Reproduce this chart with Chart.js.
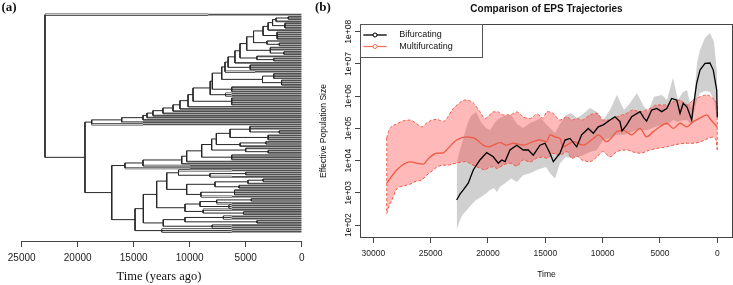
<!DOCTYPE html>
<html><head><meta charset="utf-8">
<script src="https://cdn.jsdelivr.net/npm/chart.js@4.4.1/dist/chart.umd.min.js"></script>
<style>
html,body{margin:0;padding:0;background:#fff;}
#wrap{position:relative;width:733px;height:285px;overflow:hidden;background:#fff;}
#ca{position:absolute;left:0;top:0;}
#cb{position:absolute;left:310px;top:0;}
</style></head><body>
<div id="wrap">
<canvas id="ca" width="310" height="285"></canvas>
<canvas id="cb" width="423" height="285"></canvas>
</div>
<script>
// ---------------- Panel (a): tree data (node heights in years ago) ----------------
const treeTicks = [0, 5000, 10000, 15000, 20000, 25000];
const rootHeight = 22920;
const tipA = 8350;                 // tip value = time where terminal branch turns grey (0 = default)
const nodeBHeight = 19350;
const nodeDHeight = 16960;
const defaultGreyStart = 6250;
const upperBase = [1200, 0, 0];
const upperSpine = [
  [2300, 0], [2600, [1500, 0, 0, 0]], [3000, 0], [3450, [2200, 0, 0, 0, 0]],
  [4300, [3100, 0, [2000, 0, 0]]], [4910, [2800, 0, 0, [1600, 0, 0]]],
  [5510, [4000, 0, [2500, 0, 0]]], [5960, 0], [6570, [4600, 0, 0, 0]], [6850, 4170],
  [7140, [3500, [2500, 0, 0, 0], [1800, 0, 0, 0]]], [7980, [6250, 0, 0, 0]],
  [8170, [6800, 0, 0]], [9700, [6250, 0, 0, 0, 0]],
  [10150, 20000], [10870, 20000], [11490, 20000], [12390, 20000], [13280, 20000],
  [13810, 20000], [14170, 20000], [16070, 14170], [18750, 14170]
];
const lowerEBase = [7620, [6400, [4620, 0, 0, [2000, 0, 0]], [3000, 0, 0, 0]], [5500, [3200, 0, 0], 0]];
const lowerESpine = [
  [8040, [5000, 0, [3000, 0, 0]]], [8930, [6250, 0, 0, 0]],
  [10270, 20000], [10710, 20000], [14170, 10000], [15780, 10000]
];
const lowerF = [14880,
  [14140,
    [12950,
      [12050, [11000, 0, [8200, [5000, 0, 0], 0]],
              [10270, [7740, [4800, [3450, 0, 0], 0], [5600, 0, 0]], [9000, [6000, 0, 0, 0], 0]]],
      [10420, [9080, [7590, [4500, 0, 0], 0], [6500, 0, 0]], [8800, 0, [5200, 0, 0]]]],
    [12360, [10420, [7000, 0, 0], [4000, 0, 0]], [8000, 0, 0]]],
  [12500, 0, 0]];

// ---------------- Panel (b): EPS trajectories (log10 of effective population size) ----------------
const timeTicks = [0, 5000, 10000, 15000, 20000, 25000, 30000];
const yTickValues = [1e2, 1e3, 1e4, 1e5, 1e6, 1e7, 1e8];
const yTickLabels = ["1e+02", "1e+03", "1e+04", "1e+05", "1e+06", "1e+07", "1e+08"];
const seriesNames = ["Bifurcating", "Multifurcating"];

const bifT = [22730, 22440, 22150, 21720, 21280, 20700, 20110, 19540, 19100, 18800, 18510, 18080, 17490, 16920, 16480, 16050, 15460, 15030, 14590, 14300, 13720, 13280, 12850, 12260, 11830, 11250, 10810, 10380, 9940, 9360, 8920, 8490, 8310, 7900, 7470, 6740, 6390, 6160, 5720, 5280, 4850, 4410, 3980, 3540, 3250, 2970, 2640, 2230, 2090, 1800, 1510, 1070, 640, 350, 50, 0];
const bifMedLog = [2.78, 2.96, 3.09, 3.30, 3.71, 4.02, 4.25, 4.12, 3.92, 4.02, 3.97, 4.33, 4.48, 4.33, 4.33, 4.17, 4.48, 4.54, 4.23, 3.97, 4.23, 4.64, 4.69, 4.43, 4.80, 5.00, 4.85, 5.05, 5.11, 5.26, 5.36, 5.21, 4.92, 5.11, 5.36, 5.52, 5.32, 5.23, 5.57, 5.62, 5.52, 5.62, 5.93, 5.88, 5.47, 5.78, 5.66, 5.26, 5.67, 6.40, 6.81, 7.02, 7.03, 6.81, 6.19, 5.35];

const bifBandT = [22730, 22440, 22180, 21830, 21480, 21040, 20610, 20170, 19820, 19470, 19210, 18950, 18510, 17990, 17470, 16940, 16330, 15720, 15380, 14940, 14590, 14150, 13720, 13190, 12760, 12240, 11710, 11100, 10490, 9970, 9360, 8750, 8140, 7610, 7000, 6480, 6040, 5520, 4820, 4390, 3860, 3430, 2990, 2640, 2290, 2030, 1770, 1510, 1070, 640, 290, 0];
const bifUpperLog = [3.93, 4.33, 4.64, 5.11, 5.39, 5.51, 5.20, 5.01, 4.95, 5.14, 5.26, 5.32, 5.39, 5.42, 5.14, 5.01, 5.17, 5.26, 5.32, 5.14, 5.01, 4.86, 5.14, 5.42, 5.48, 5.32, 5.45, 5.63, 5.51, 5.26, 5.57, 6.04, 5.57, 5.79, 6.10, 5.73, 5.51, 5.98, 6.04, 5.88, 6.57, 5.88, 6.13, 6.19, 5.63, 5.88, 7.03, 7.43, 7.81, 7.96, 7.68, 6.66];
const bifLowerLog = [1.84, 2.16, 2.34, 2.47, 2.62, 2.78, 2.87, 2.98, 3.09, 3.14, 3.03, 3.19, 3.30, 3.45, 3.34, 3.55, 3.61, 3.71, 3.76, 3.80, 3.61, 3.45, 3.92, 4.12, 4.08, 4.11, 4.17, 4.27, 4.33, 4.64, 4.70, 4.80, 4.80, 4.86, 4.95, 4.95, 4.95, 5.04, 5.11, 5.11, 5.26, 5.20, 5.26, 5.26, 5.11, 5.51, 5.88, 6.10, 6.16, 6.13, 5.88, 5.26];

const multT = [28830, 27960, 26800, 25640, 25230, 24470, 23900, 23490, 22730, 21860, 21130, 20410, 19970, 19540, 18950, 18370, 17790, 16920, 16050, 15460, 14880, 14590, 14070, 13720, 13430, 12560, 11690, 10810, 10380, 9650, 8770, 8200, 7470, 6740, 6160, 5580, 5000, 4410, 3840, 3250, 2670, 2090, 1510, 920, 550, 0];
const multMedLog = [3.30, 3.71, 3.96, 3.89, 4.05, 4.23, 4.24, 4.38, 4.64, 4.74, 4.69, 4.48, 4.43, 4.48, 4.56, 4.48, 4.54, 4.48, 4.59, 4.64, 4.59, 4.80, 4.73, 4.69, 4.43, 4.59, 4.48, 4.69, 4.80, 4.59, 4.90, 4.95, 4.80, 5.00, 4.74, 4.90, 5.05, 5.16, 5.00, 5.16, 5.05, 5.21, 5.32, 5.42, 5.26, 5.04];

const multBandT = [28830, 28630, 28370, 27960, 27410, 26800, 26190, 25780, 25340, 24880, 24450, 23920, 23490, 23140, 22700, 22000, 21310, 20700, 20260, 20000, 19560, 19210, 18690, 18080, 17470, 16940, 16330, 15720, 15200, 14850, 14330, 13720, 13110, 12670, 12240, 11800, 11100, 10490, 9970, 9360, 8750, 7880, 7350, 6740, 5870, 5260, 4390, 3860, 3250, 2640, 2120, 1510, 900, 380, 110, 0];
const multUpperLog = [4.70, 4.95, 5.07, 5.14, 5.23, 5.26, 5.14, 5.05, 5.17, 5.26, 5.28, 5.21, 5.36, 5.57, 5.73, 5.88, 5.80, 5.52, 5.31, 5.36, 5.51, 5.52, 5.42, 5.42, 5.51, 5.36, 5.31, 5.45, 5.32, 5.52, 5.47, 5.26, 5.36, 5.26, 5.31, 5.26, 5.42, 5.47, 5.26, 5.26, 5.36, 5.47, 5.57, 5.52, 5.62, 5.73, 5.73, 5.83, 5.88, 5.73, 5.88, 5.98, 6.04, 5.93, 5.82, 5.67];
const multLowerLog = [2.36, 2.59, 2.78, 3.12, 3.21, 3.27, 3.37, 3.40, 3.55, 3.68, 3.80, 3.86, 3.86, 3.89, 3.93, 3.97, 3.86, 3.77, 3.71, 3.77, 3.81, 3.76, 3.86, 3.92, 3.83, 4.02, 3.96, 4.08, 4.11, 4.07, 4.23, 4.17, 4.28, 4.07, 4.14, 4.02, 3.97, 4.12, 4.28, 4.12, 4.28, 4.33, 4.27, 4.23, 4.33, 4.38, 4.43, 4.48, 4.52, 4.54, 4.54, 4.58, 4.67, 4.73, 4.64, 4.33];

// ---------------- build tree segments ----------------
function fold(base, spine) { let n = base; for (const [h, side] of spine) n = [h, n, side]; return n; }
const tree = [rootHeight, tipA, [nodeBHeight, fold(upperBase, upperSpine), [nodeDHeight, fold(lowerEBase, lowerESpine), lowerF]]];
let tipCount = 0;
const internalSeg = [], tipBlackSeg = [], tipGreySeg = [];
function seg(arr, x1, x2, y) { arr.push({x: x1, y: y}, {x: x2, y: y}, {x: x2, y: null}); }
function layout(node, parentH) {
  if (typeof node === 'number') {
    tipCount++;
    const y = tipCount;
    const g = Math.min(parentH, node === 0 ? defaultGreyStart : node);
    if (g < parentH) seg(tipBlackSeg, parentH, g, y);
    seg(tipGreySeg, g, 0, y);
    return y;
  }
  const h = node[0];
  const ys = node.slice(1).map(c => layout(c, h));
  const y = (ys[0] + ys[ys.length - 1]) / 2;
  internalSeg.push({x: h, y: ys[0]}, {x: h, y: ys[ys.length - 1]}, {x: h, y: null});
  if (parentH != null) seg(internalSeg, parentH, h, y);
  return y;
}
layout(tree, null);
const tipStep = (231.7 - 14.7) / (tipCount - 1);
const treeYMin = 1 - (14.7 - 10) / tipStep;
const treeYMax = tipCount + (241 - 231.7) / tipStep;

Chart.defaults.font.family = '"Liberation Sans", Arial, sans-serif';
Chart.defaults.color = '#222';

const textA = {id: 'textA', afterDraw(chart) {
  const c = chart.ctx; c.save(); c.fillStyle = '#111';
  c.font = 'bold 13px "Liberation Serif"'; c.textBaseline = 'middle'; c.textAlign = 'left';
  c.fillText('(a)', 1.5, 8);
  c.font = '12.5px "Liberation Serif"'; c.textAlign = 'center';
  c.fillText('Time (years ago)', 159, 277);
  c.restore();
}};

const lineDs = (data, color, width, order) => ({data: data, showLine: true, borderColor: color, borderWidth: width, pointRadius: 0, spanGaps: false, order: order});
new Chart(document.getElementById('ca'), {
  type: 'scatter',
  data: {datasets: [
    lineDs(internalSeg, '#262626', 1, 1),
    lineDs(tipBlackSeg, '#ffffff', 0.9, 2),
    lineDs(tipBlackSeg, '#3a3a3a', 2.4, 3),
    lineDs(tipGreySeg, '#505050', 1.7, 4)
  ]},
  options: {
    responsive: false, animation: false, events: [],
    layout: {padding: {left: 21.7, right: 8.3, top: 10, bottom: 0}},
    plugins: {legend: {display: false}, tooltip: {enabled: false}},
    scales: {
      x: {type: 'linear', reverse: true, min: 0, max: 25000,
        afterBuildTicks: s => { s.ticks = treeTicks.map(v => ({value: v})); },
        afterFit: s => { s.height = 44; },
        grid: {drawOnChartArea: false, drawTicks: true, tickLength: 6, color: '#444'},
        border: {display: true, color: '#444', width: 1},
        ticks: {font: {size: 10}, color: '#222', padding: 5, maxRotation: 0, autoSkip: false, callback: v => String(v)}},
      y: {type: 'linear', reverse: true, min: treeYMin, max: treeYMax, display: false}
    }
  },
  plugins: [textA]
});

// ---------------- Panel (b) ----------------
const pts = (ts, ls) => ts.map((t, i) => ({x: t, y: Math.pow(10, ls[i])}));
const nB = multBandT.length - 1;
const textB = {id: 'textB', afterDraw(chart) {
  const c = chart.ctx, a = chart.chartArea, ys = chart.scales.y;
  c.save();
  c.strokeStyle = '#444'; c.lineWidth = 1;
  c.strokeRect(Math.round(a.left) + 0.5, Math.round(a.top) + 0.5, Math.round(a.right - a.left) - 1, Math.round(a.bottom - a.top) - 1);
  c.fillStyle = '#111';
  c.font = 'bold 13px "Liberation Serif"'; c.textAlign = 'left'; c.textBaseline = 'middle';
  c.fillText('(b)', 5, 8);
  c.font = 'bold 10px "Liberation Sans"'; c.textAlign = 'center';
  c.fillText('Comparison of EPS Trajectories', (a.left + a.right) / 2, 9);
  c.font = '8.5px "Liberation Sans"';
  c.fillText('Time', (a.left + a.right) / 2, 275);
  yTickValues.forEach((v, i) => {
    const py = ys.getPixelForValue(v);
    c.save(); c.translate(38.3, py); c.rotate(-Math.PI / 2); c.fillText(yTickLabels[i], 0, 0); c.restore();
  });
  c.save(); c.translate(14, (a.top + a.bottom) / 2); c.rotate(-Math.PI / 2);
  c.fillText('Effective Population Size', 0, 0); c.restore();
  // legend
  const lx = Math.round(a.left) + 0.5, ly = Math.round(a.top) + 0.5;
  c.fillStyle = '#fff'; c.fillRect(lx, ly, 122, 33);
  c.strokeStyle = '#555'; c.strokeRect(lx, ly, 122, 33);
  const rows = [[seriesNames[0], '#000', 35], [seriesNames[1], '#f4735f', 46.5]];
  rows.forEach(([name, col, yy]) => {
    c.strokeStyle = col; c.lineWidth = 1.3;
    c.beginPath(); c.moveTo(a.left + 3.3, yy); c.lineTo(a.left + 26.7, yy); c.stroke();
    c.beginPath(); c.arc(a.left + 15, yy, 2, 0, Math.PI * 2); c.fillStyle = '#fff'; c.fill(); c.lineWidth = 1; c.stroke();
    c.fillStyle = '#111'; c.font = '9px "Liberation Sans"'; c.textAlign = 'left';
    c.fillText(name, a.left + 39.3, yy);
  });
  c.restore();
}};

new Chart(document.getElementById('cb'), {
  type: 'line',
  data: {datasets: [
    {label: seriesNames[0], data: pts(bifT, bifMedLog), borderColor: '#000', borderWidth: 1.3, pointRadius: 0, tension: 0, fill: false, order: 1},
    {label: seriesNames[1], data: pts(multT, multMedLog), borderColor: '#ef5a44', borderWidth: 1.3, pointRadius: 0, cubicInterpolationMode: 'monotone', fill: false, order: 2},
    {data: [{x: multBandT[0], y: Math.pow(10, multUpperLog[0])}, {x: multBandT[0], y: Math.pow(10, multLowerLog[0])}], borderColor: '#f0604c', borderWidth: 1, borderDash: [3, 2], pointRadius: 0, fill: false, order: 3},
    {data: [{x: multBandT[nB], y: Math.pow(10, multUpperLog[nB])}, {x: multBandT[nB], y: Math.pow(10, multLowerLog[nB])}], borderColor: '#f0604c', borderWidth: 1, borderDash: [3, 2], pointRadius: 0, fill: false, order: 3},
    {data: pts(multBandT, multUpperLog), borderColor: '#f0604c', borderWidth: 1, borderDash: [3, 2], pointRadius: 0, cubicInterpolationMode: 'monotone', fill: '+1', backgroundColor: 'rgba(255,55,55,0.35)', order: 4},
    {data: pts(multBandT, multLowerLog), borderColor: '#f0604c', borderWidth: 1, borderDash: [3, 2], pointRadius: 0, cubicInterpolationMode: 'monotone', fill: false, order: 5},
    {data: pts(bifBandT, bifUpperLog), borderWidth: 0, borderColor: 'rgba(0,0,0,0)', pointRadius: 0, tension: 0, fill: '+1', backgroundColor: '#d0d0d0', order: 6},
    {data: pts(bifBandT, bifLowerLog), borderWidth: 0, borderColor: 'rgba(0,0,0,0)', pointRadius: 0, tension: 0, fill: false, order: 7}
  ]},
  options: {
    responsive: false, animation: false, events: [],
    layout: {padding: {left: 0, right: 0, top: 24, bottom: 0}},
    plugins: {legend: {display: false}, tooltip: {enabled: false}},
    scales: {
      x: {type: 'linear', reverse: true, min: -1370, max: 31160,
        afterBuildTicks: s => { s.ticks = timeTicks.map(v => ({value: v})); },
        afterFit: s => { s.height = 47; },
        grid: {drawOnChartArea: false, drawTicks: true, tickLength: 5, color: '#444'},
        border: {display: false},
        ticks: {font: {size: 8.5}, color: '#222', padding: 6, maxRotation: 0, autoSkip: false, callback: v => String(v)}},
      y: {type: 'logarithmic', min: Math.pow(10, 1.6), max: Math.pow(10, 8.24),
        afterBuildTicks: s => { s.ticks = yTickValues.map(v => ({value: v})); },
        afterFit: s => { s.width = 50; },
        grid: {drawOnChartArea: false, drawTicks: true, tickLength: 5, color: '#444'},
        border: {display: false},
        ticks: {display: false}}
    }
  },
  plugins: [textB]
});
</script>
</body></html>
